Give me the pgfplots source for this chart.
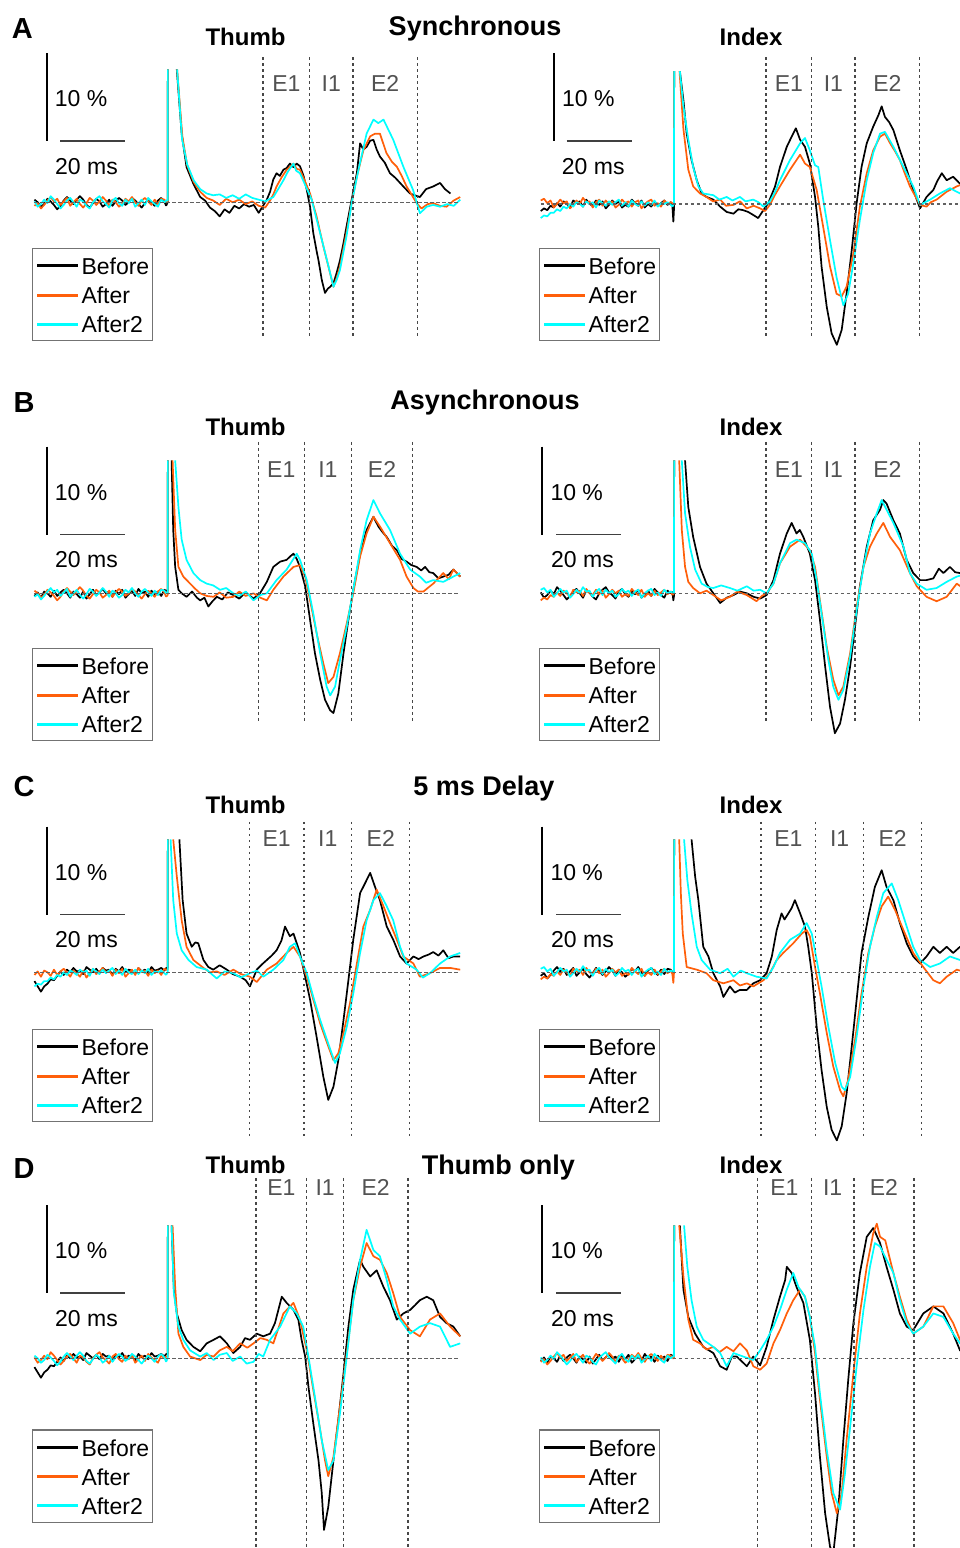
\documentclass[border=0pt]{standalone}
\usepackage{pgfplots}
\pgfplotsset{compat=1.18}
\usepackage{pgfplotstable}
\usepackage{fontspec}
\setmainfont{Liberation Sans}

\definecolor{cBefore}{RGB}{0,0,0}
\definecolor{cAfter}{RGB}{255,95,10}
\definecolor{cAfter2}{RGB}{0,255,255}

% pre-stimulus baseline noise (ms, % of max)
\pgfplotstableread{
x s1 s2 s3 s4 s5 s6 s7 s8
-41 0.3 -0.4 0.1 -0.8 0.4 -0.3 -1.0 -1.6
-40 0.0 -0.1 -0.5 -0.5 0.6 0.1 -1.6 -1.3
-39 -0.5 -0.7 -0.2 -0.7 0.1 -0.5 -2.2 -1.4
-38 -0.2 -0.3 0.3 -0.2 0.4 0.2 -1.6 -1.0
-37 0.4 0.2 -0.1 -0.4 -0.4 0.0 -1.3 -1.0
-36 0.1 0.6 0.7 0.1 0.0 -0.4 -0.8 -0.6
-35 -0.3 0.1 0.3 -0.3 0.5 0.3 -0.9 -0.8
-34 -0.8 0.4 -0.2 0.3 0.1 -0.3 -0.4 -0.3
-33 -0.4 -0.3 -0.7 0.0 0.3 0.1 0.1 -0.5
-32 0.2 0.1 -0.3 -0.4 -0.5 0.4 -0.3 0.0
-31 0.6 0.5 0.2 0.4 -0.1 0.0 0.3 -0.3
-30 0.2 -0.4 0.5 0.1 0.4 -0.5 0.0 0.2
-29 -0.2 0.0 0.0 0.3 0.0 0.2 0.5 0.0
-28 0.3 0.4 -0.5 -0.3 0.7 -0.1 0.1 -0.3
-27 0.7 -0.2 0.3 0.5 0.2 -0.5 0.2 0.3
-26 0.3 -0.6 0.1 0.0 0.3 0.2 -0.2 0.0
-25 -0.3 -0.1 -0.4 -0.2 -0.4 -0.6 0.6 0.2
-24 -0.6 0.5 -0.7 0.4 0.2 -0.1 0.3 -0.4
-23 -0.1 0.2 0.0 -0.1 0.5 0.4 0.0 0.4
-22 0.4 -0.3 0.4 0.3 -0.2 -0.2 0.4 0.1
-21 0.1 0.1 0.7 -0.5 0.4 0.1 -0.1 -0.2
-20 -0.5 0.6 0.1 -0.1 0.0 0.5 0.5 0.3
-19 -0.2 0.2 -0.2 0.4 0.3 0.0 0.2 -0.1
-18 0.3 -0.4 -0.6 0.0 -0.4 0.2 0.3 0.2
-17 -0.4 0.3 0.2 0.3 -0.1 -0.4 -0.3 0.5
-16 0.1 0.0 0.5 -0.4 0.5 0.3 0.4 -0.2
-15 0.5 -0.5 -0.1 -0.1 0.1 -0.1 0.1 0.2
-14 0.2 -0.2 -0.4 -0.3 0.3 0.4 0.6 -0.3
-13 -0.3 0.4 0.3 0.5 -0.3 -0.5 0.0 0.4
-12 0.0 0.1 -0.1 0.1 0.2 -0.1 0.3 0.0
-11 0.5 0.6 0.4 -0.2 0.4 0.3 0.2 -0.2
-10 0.2 0.0 -0.5 0.4 -0.5 -0.3 -0.2 0.3
-9 -0.2 -0.4 -0.1 -0.4 0.0 0.5 0.5 -0.2
-8 -0.6 0.2 0.3 0.0 0.3 0.0 0.1 0.2
-7 -0.1 0.5 -0.3 -0.3 0.5 0.2 0.3 -0.1
-6 0.3 0.1 0.5 0.3 -0.2 -0.4 -0.1 0.4
-5 0.0 -0.3 0.1 -0.2 0.1 0.3 0.6 -0.3
-4 -0.4 0.3 -0.2 0.1 -0.3 -0.1 0.2 0.1
-3 0.2 -0.2 -0.5 0.4 0.4 0.2 0.3 0.0
-2 0.5 0.4 0.3 -0.1 0.0 -0.3 0.5 0.2
-1 0.1 0.3 0.0 0.2 0.2 0.4 0.2 -0.1
-0.5 -0.4 0.0 0.2 -0.2 0.1 0.3 0.5 -0.3
}\noisetab

\pgfplotsset{
  emg/.style={x=3.25pt, y=8.8pt, hide axis, xmin=-42, xmax=92, ymin=-23, ymax=21,
    clip=false, anchor=origin, no markers, unbounded coords=jump,
    every axis plot/.append style={line width=1.7pt, line join=round}},
}

% one trace: pre-stimulus part from the noise table, rest from coordinates
% (the nan point breaks the line where the stimulus artefact leaves the frame)
\newcommand{\trace}[3]{%
  \addplot[#1] table[x=x,y=#2]{\noisetab};
  \addplot[#1] coordinates {#3};
}
% E1 / I1 / E2 windows: 4 borders, top, bottom, label baseline
\newcommand{\guides}[7]{%
  \draw[zeroline] (axis cs:-41,0) -- (axis cs:90,0);
  \draw[guide] (axis cs:#1,#5) -- (axis cs:#1,#6);
  \draw[guide] (axis cs:#2,#5) -- (axis cs:#2,#6);
  \draw[guide] (axis cs:#3,#5) -- (axis cs:#3,#6);
  \draw[guide] (axis cs:#4,#5) -- (axis cs:#4,#6);
  \path (axis cs:#1,#7) -- (axis cs:#2,#7) node[midway,elab] {E1};
  \path (axis cs:#2,#7) -- (axis cs:#3,#7) node[midway,elab] {I1};
  \path (axis cs:#3,#7) -- (axis cs:#4,#7) node[midway,elab] {E2};
}
% legend box at left x, top y (pixel units, y down)
\newcommand{\lgd}[2]{%
  \draw[line width=1.2pt, draw=black!55] (#1,#2) rectangle ({#1+120.4},{#2+92.4});
  \draw[line width=3pt, cBefore] ({#1+4.7},{#2+17.4}) -- ({#1+45.7},{#2+17.4});
  \draw[line width=3pt, cAfter] ({#1+4.7},{#2+46.7}) -- ({#1+45.7},{#2+46.7});
  \draw[line width=3pt, cAfter2] ({#1+4.7},{#2+75.7}) -- ({#1+45.7},{#2+75.7});
  \node[lgt] at ({#1+49},{#2+26}) {Before};
  \node[lgt] at ({#1+49},{#2+55}) {After};
  \node[lgt] at ({#1+49},{#2+84}) {After2};
}
% scale bars: vertical bar x, its top y, horizontal bar start x
\newcommand{\sbar}[3]{%
  \draw[line width=2pt] (#1,#2) -- (#1,{#2+88});
  \draw[line width=1.4pt, black!75] (#3,{#2+88}) -- ({#3+65},{#2+88});
  \node[lgt] at ({#1+8},{#2+53.5}) {10 \%};
  \node[lgt] at ({#3-5},{#2+121}) {20 ms};
}

\begin{document}
\begin{tikzpicture}[
  guide/.style={line width=1.3pt, draw=black!72, dash pattern=on 2.6pt off 3.4pt},
  zeroline/.style={line width=1.1pt, draw=black!62, dash pattern=on 3.5pt off 2.5pt},
  elab/.style={anchor=base, inner sep=0pt, text=black!68, font=\fontsize{23}{26}\selectfont},
  lgt/.style={anchor=base west, inner sep=0pt, font=\fontsize{23}{26}\selectfont},
  ttl/.style={anchor=base, inner sep=0pt, font=\bfseries\fontsize{27}{30}\selectfont},
  sub/.style={anchor=base, inner sep=0pt, font=\bfseries\fontsize{24}{27}\selectfont},
  pan/.style={anchor=base west, inner sep=0pt, font=\bfseries\fontsize{29}{32}\selectfont},
]

% ---------------- A: Synchronous ----------------
\begin{axis}[emg, at={(167.7pt,-202.3pt)}]
\trace{cBefore}{s1}{(-0.5,-0.4)(0,0)(0.05,15.1)(0.5,nan)(2.8,15.1)(4.3,7.8)(5.8,4.0)(7.9,2.1)(10,0.6)(11.5,0.2)(13,-0.6)(14.5,-1.0)(16,-1.6)(17.5,-0.8)(19,-1.2)(20.5,-0.4)(22,-0.7)(23.5,-0.2)(25,-0.5)(26.5,-0.3)(28,-1.2)(29.5,-0.3)(30.5,0.3)(31.5,1.2)(32.5,2.6)(33.5,3.3)(34.5,3.0)(35.6,3.7)(36.6,3.9)(37.6,4.4)(38.7,4.0)(39.7,4.4)(40.7,4.1)(41.8,3.0)(42.8,1.4)(43.8,-0.5)(44.8,-3.5)(45.8,-5.5)(46.4,-6.6)(47.4,-8.8)(48.4,-10.3)(49.3,-9.8)(50,-9.6)(51,-9.2)(52,-8.0)(53,-6.6)(54,-4.8)(55,-2.8)(56.6,0.3)(58.2,3.3)(59.2,6.7)(60.2,6.0)(61.2,6.3)(62.3,7.0)(63.3,7.1)(64.3,6.0)(65.3,5.2)(66.8,4.5)(68.4,3.3)(70,2.8)(71.5,2.2)(73,1.6)(74.6,1.0)(76,0.8)(77.6,0.6)(79.5,1.5)(81.7,1.8)(83.8,2.2)(85.3,1.5)(87,1.0)}
\trace{cAfter}{s2}{(-0.5,0.0)(0,0)(0.05,15.1)(0.5,nan)(2.9,15.1)(4.5,7.5)(6,4.2)(8,2.3)(10,1.2)(12,0.5)(14,0.2)(16,-0.3)(18,0.4)(20,0)(22,0.3)(24,-0.2)(26,0.1)(28,-0.4)(30,-0.6)(31.5,0.2)(32.5,0.9)(33.5,1.8)(35,2.8)(36.6,3.7)(38.7,4.4)(39.7,3.8)(40.7,3.7)(42,2.6)(43.8,1.0)(45.8,-1.6)(47.9,-5.0)(50,-8.1)(51,-9.6)(52,-8.6)(53,-7.3)(55,-3.5)(56.6,-0.1)(58.2,2.9)(60.2,5.9)(62.3,7.5)(63.8,7.8)(65.3,7.8)(67.3,5.6)(69,4.6)(70.5,4.05)(72,3.0)(73.5,1.8)(75,0.9)(76.6,-0.1)(78.1,-0.7)(80,-0.2)(81.7,-0.1)(83.8,-0.4)(85.8,-0.5)(88,0.2)(90,0.6)}
\trace{cAfter2}{s3}{(-0.5,0.2)(0,0.2)(0.05,15.1)(0.5,nan)(2.9,15.1)(4.4,7.2)(6,4.3)(8,2.5)(10,1.5)(12,1.0)(14,0.8)(16,0.9)(18,0.5)(20,0.8)(22,0.4)(24,0.9)(26,0.5)(28,0.3)(30,0.1)(31.5,0.4)(32.5,0.6)(34,1.5)(35.6,2.5)(37,3.5)(38.7,4.4)(39.5,3.6)(40.7,3.3)(42.5,1.8)(44.3,0.3)(46.9,-3.5)(49.5,-7.3)(51,-9.6)(52,-8.8)(53,-7.7)(55,-3.9)(56.6,-0.1)(58.7,3.7)(61.2,7.8)(63.3,9.4)(64.8,9.0)(66.4,9.4)(69.4,7.1)(72.5,4.05)(75.5,1.4)(77.6,-1.25)(79.7,-0.5)(81.7,-0.3)(83.8,-0.5)(86,-0.2)(88,-0.4)(90,0.3)}
\guides{29.3}{43.7}{57.0}{76.8}{16.5}{-15.3}{12.6}
\end{axis}

\begin{axis}[emg, at={(674pt,-204pt)}]
\trace{cBefore}{s4}{(-0.5,-0.2)(-0.2,-2.0)(0,-0.5)(0.05,15.1)(0.5,nan)(1.8,15.1)(2.9,11.8)(3.9,8.0)(5.4,5.0)(7,2.7)(8.5,1.2)(10,0.8)(12.1,0.5)(14.2,-0.3)(16.2,-0.9)(18.3,-1.1)(19.8,-0.6)(21.3,-0.7)(22.8,-0.9)(24.4,-1.25)(25.9,-1.6)(27.5,-0.7)(29,0.1)(31.1,2.0)(32.6,4.2)(34.7,6.5)(36.2,7.65)(37.5,8.6)(38.8,7.3)(40.3,6.5)(41.8,4.6)(43.4,0.8)(44.4,-2.6)(45.4,-7.1)(47,-11.7)(48.5,-14.7)(50.1,-16.0)(51.6,-14.3)(53.1,-10.2)(54.7,-5.2)(56.2,0.1)(57.7,4.2)(59.3,6.9)(61.3,8.8)(62.9,10.1)(63.9,11.1)(64.9,9.9)(66.2,9.3)(67.5,8.4)(69.5,6.1)(71.6,3.9)(73.6,1.6)(75.7,-0.5)(77.7,0.8)(79.8,1.6)(81,2.6)(82.4,3.5)(83.9,2.7)(85.9,3.1)(88,2.3)(90,2.6)}
\trace{cAfter}{s5}{(-0.5,0.1)(0,0.1)(0.05,15.1)(0.5,nan)(1.7,15.1)(2.9,8.5)(4.4,3.9)(5.9,2.0)(8,1.2)(10,0.8)(12,0.3)(14.2,0.5)(16,-0.2)(18.3,-0.1)(20.3,0.3)(22.4,-0.5)(24.5,-0.2)(26.5,-0.5)(28,-0.8)(29.5,-0.1)(31,1.0)(32.6,2.0)(35.7,3.9)(37.7,5.0)(38.8,5.6)(40.3,4.6)(41.8,4.2)(43.9,1.6)(45.9,-2.6)(48,-7.1)(50,-10.2)(51.6,-10.5)(53.1,-9.4)(55.2,-5.6)(57.2,-0.3)(59.3,3.5)(61.3,6.1)(63.4,7.65)(64.9,8.0)(66.5,6.9)(68,6.0)(69.5,5.0)(71,3.5)(72.6,2.0)(75.7,-0.1)(77.7,-0.3)(79,0.2)(80.8,0.5)(83.9,1.4)(87,2.0)(89,2.3)(90,2.0)}
\trace{cAfter2}{s8}{(-0.5,-0.3)(0,0)(0.05,15.1)(0.5,nan)(1.8,15.1)(2.9,11.1)(4.4,7.3)(5.9,4.2)(7.5,2.0)(9,1.2)(12.1,1.0)(14,0.5)(16.2,0.8)(18,0.4)(20.3,0.8)(22,0.3)(24.4,0.5)(26,0.2)(27.5,-0.3)(29.5,0.3)(31,1.3)(32.6,2.7)(35.7,5.0)(38.8,6.9)(40.3,7.5)(41.8,6.1)(43.4,4.4)(44.4,4.2)(45.9,0.5)(48,-4.1)(50,-8.3)(52.1,-11.5)(53.6,-10.2)(55.2,-6.7)(57.2,-1.8)(59.3,2.7)(61.3,5.8)(63.4,8.0)(64.9,8.2)(67.5,6.5)(70.6,4.2)(73.6,2.0)(75.7,-0.1)(78.8,0.5)(81.8,1.2)(84.9,1.8)(88,1.2)(90,1.5)}
\guides{28.3}{42.4}{55.7}{75.6}{16.7}{-15.1}{12.8}
\end{axis}

% ---------------- B: Asynchronous ----------------
\begin{axis}[emg, at={(167.7pt,-593.3pt)}]
\trace{cBefore}{s6}{(-0.5,0.3)(0,0.3)(0.05,15.1)(0.5,nan)(1.2,15.1)(1.7,7.2)(2.3,3.0)(3.3,0.4)(4.3,0)(5.8,-0.4)(7.5,0.2)(9,-0.5)(10,-0.8)(11.3,-0.5)(12.5,-1.5)(13.8,-0.9)(15.1,-0.4)(16.8,-0.7)(18.5,0.1)(20.2,-0.2)(22,-0.6)(24,0.1)(26.4,-0.6)(28.4,0)(30.5,1.3)(32.5,3.0)(34.6,3.6)(36.6,3.8)(37.7,4.2)(38.7,4.5)(39.7,3.9)(40.7,3.0)(42.3,0.8)(43.8,-3.0)(45.3,-6.8)(46.9,-9.8)(48.4,-12.1)(50,-13.3)(51,-13.6)(52.5,-11.4)(54.1,-6.8)(55.6,-3.0)(57.1,0.4)(59.2,4.5)(61.2,7.2)(63.3,8.7)(64.8,7.6)(66,7.0)(67.4,6.4)(69,5.4)(70.5,4.9)(72,3.9)(73.5,3.6)(75,3.2)(76.6,3.0)(78,2.6)(79.2,3.0)(80.5,2.4)(81.7,2.3)(83.3,1.7)(84.8,1.9)(86.4,2.1)(87.9,2.7)(90,1.9)}
\trace{cAfter}{s1}{(-0.5,-0.4)(0,-0.2)(0.05,15.1)(0.5,nan)(1.5,15.1)(2.3,7.2)(3.3,3.0)(4.8,1.9)(6.9,1.1)(8.5,0.5)(10,0)(12,-0.3)(14.1,-0.4)(16,0.1)(18,-0.5)(20.2,-0.4)(22,0.2)(24,-0.3)(26.4,0)(28.5,-0.5)(30.5,-0.8)(32.5,0.4)(35.6,1.9)(38.7,3.0)(40.7,3.2)(42.3,1.9)(43.8,-0.8)(45.8,-4.5)(47.9,-8.0)(49.4,-10.2)(51,-9.5)(53,-6.8)(55.1,-3.4)(57.1,0)(59.2,4.2)(61.2,6.8)(63.3,8.7)(65.3,7.6)(68.4,5.7)(71.5,3.8)(73.5,1.9)(75.6,0.6)(77,0.2)(78.7,0.2)(80,0.6)(81.7,1.1)(84.8,2.3)(86.5,1.6)(87.9,2.7)(90,1.9)}
\trace{cAfter2}{s2}{(-0.5,0)(0,0)(0.05,15.1)(0.5,nan)(2.3,15.1)(3.3,9.8)(4.3,6.1)(5.8,3.8)(7.9,2.3)(10,1.5)(12,1.1)(14,0.9)(16.1,0.4)(18,0.6)(20.2,0)(22,-0.3)(24,0.2)(26.4,-0.8)(28.5,-0.2)(30.5,0)(33.5,1.5)(36.6,2.7)(39.7,4.5)(40.7,3.8)(42.8,1.5)(44.8,-2.3)(46.9,-6.8)(48.9,-10.6)(50,-11.6)(51.5,-10.6)(53,-7.6)(55.1,-3.8)(57.1,0.4)(59.2,4.9)(61.2,8.3)(63.3,10.6)(65.3,9.1)(68.4,7.2)(71.5,4.5)(74.6,2.7)(77.6,1.9)(79.5,1.2)(81.7,1.5)(84.8,1.3)(87.9,1.9)(90,2.3)}
\guides{27.9}{42.0}{56.6}{75.3}{17.2}{-14.7}{13.2}
\end{axis}

\begin{axis}[emg, at={(674pt,-593.3pt)}]
\trace{cBefore}{s3}{(-0.5,0.2)(-0.2,-0.8)(0,-0.3)(0.05,15.1)(0.5,nan)(3.4,15.1)(4.4,9.8)(5.9,6.4)(8,3.0)(10,1.1)(12.1,0)(14.2,-1.1)(16.2,-0.5)(18.3,-0.2)(20.3,0.2)(22.4,0)(24.5,-0.4)(26.5,-0.6)(28.5,-0.2)(30.6,1.5)(32.6,4.5)(34.7,6.8)(36.2,8.0)(37.7,6.8)(38.7,7.2)(39.8,6.4)(41.8,4.5)(43.4,1.5)(44.9,-3.0)(46.5,-8.3)(48,-12.9)(49.5,-15.9)(51.1,-14.8)(52.6,-12.1)(54.2,-8.3)(55.7,-3.8)(57.2,0.8)(59.3,5.3)(61.3,8.3)(63.4,9.5)(64.4,10.6)(65.4,10.2)(67.5,8.3)(69.5,6.8)(71.6,3.8)(73.6,2.3)(75.7,1.5)(77.7,1.5)(79.8,1.7)(81.5,2.8)(82.9,2.3)(84.9,3.0)(86.5,2.4)(88,2.3)(90,2.6)}
\trace{cAfter}{s4}{(-0.5,-0.2)(0,0)(0.05,15.1)(0.5,nan)(1.6,15.1)(2.4,7.2)(3.4,3.0)(4.4,1.3)(5.9,0.6)(8,0)(10,0.3)(12.1,-0.2)(14.5,-0.8)(17.2,-0.4)(19.5,0.2)(22.4,-0.2)(25.4,-0.9)(27,-0.3)(28.5,0)(30.6,1.1)(32.6,3.4)(35.7,5.3)(38.8,6.1)(41.8,4.9)(43.4,3.0)(44.9,-0.8)(47,-6.1)(49,-9.8)(50.6,-11.6)(52.1,-10.6)(54.2,-6.8)(56.2,-1.5)(58.3,3.0)(60.3,5.3)(62.4,6.8)(64.4,8.0)(66.5,6.4)(69.5,4.9)(72.6,2.3)(74.7,0.8)(77.7,-0.4)(80.8,-0.9)(83.9,-0.4)(87,1.1)(90,0.3)}
\trace{cAfter2}{s5}{(-0.5,0.1)(0,0.1)(0.05,15.1)(0.5,nan)(2.4,15.1)(3.4,9.1)(4.9,5.3)(6.5,2.7)(8.5,1.1)(10.5,0.7)(12.1,0.6)(14.5,0.9)(17.2,0.6)(19.5,0.3)(22.4,0.8)(24.5,0.3)(26.5,0.4)(28.5,0)(30.6,1.1)(32.6,3.4)(35.7,5.7)(37.7,6.1)(40.3,5.7)(42.4,4.5)(43.9,1.5)(45.4,-2.3)(47.5,-7.6)(49,-10.6)(50.6,-12.1)(52.1,-11.0)(54.2,-7.2)(56.2,-1.9)(58.3,3.0)(60.3,6.8)(62.4,9.1)(63.9,10.6)(65.4,9.5)(67.5,8.0)(70.6,5.3)(72.6,2.3)(74.7,1.1)(77.7,0.4)(80.8,0.6)(83.9,1.3)(87,1.9)(90,2.2)}
\guides{28.3}{42.4}{55.7}{75.6}{17.2}{-14.7}{13.2}
\end{axis}

% ---------------- C: 5 ms Delay ----------------
\begin{axis}[emg, at={(167.7pt,-972.3pt)}]
\trace{cBefore}{s7}{(-0.5,0.5)(0,0.5)(0.05,15.1)(0.5,nan)(3.6,15.1)(4.6,8.2)(5.8,4.4)(7.4,2.9)(8.5,3.4)(9.4,3.3)(11,1.4)(12.5,0.6)(14,0.3)(16,0.8)(18.2,0.3)(20,-0.2)(22.3,-0.5)(24,-0.9)(25.3,-1.6)(27.4,0.3)(29,0.9)(30.5,1.4)(32,1.9)(33.5,2.5)(35,3.6)(36.1,5.2)(37.6,4.1)(38.7,4.4)(40.7,2.2)(42.3,-0.5)(43.8,-3.1)(45.8,-7.3)(47.9,-11.9)(49.4,-14.5)(51,-13.0)(52.5,-10.0)(54.1,-5.4)(55.6,-0.9)(57.1,3.7)(59.2,9.0)(60.7,10.1)(62.3,11.3)(63.8,9.7)(65.3,8.2)(67.4,5.2)(69.4,3.7)(71.5,1.8)(73.5,1.0)(75.6,1.8)(77.2,1.5)(78.7,1.8)(80.2,2.0)(81.7,2.3)(83.3,1.9)(84.8,2.5)(86.4,1.6)(87.9,1.8)(90,1.8)}
\trace{cAfter}{s6}{(-0.5,0.3)(0,0.3)(0.05,15.1)(0.5,nan)(1.7,15.1)(2.8,10.9)(4.3,5.9)(5.8,2.9)(7.9,1.4)(11,0.5)(13,0.0)(15.1,0.1)(17.5,-0.3)(20.2,0.3)(22.5,-0.2)(25.3,-0.5)(27.4,-1.1)(30.5,0.3)(33.5,1.0)(36.6,2.2)(38.7,2.9)(40.7,1.8)(42.8,-0.5)(44.8,-3.1)(46.9,-5.8)(49.4,-8.4)(51,-10.0)(52.5,-9.2)(54.1,-6.9)(56.1,-3.5)(58.2,1.0)(60.2,5.2)(62.3,7.1)(64.3,9.4)(66.4,7.5)(68.4,5.6)(70.5,3.7)(72.5,1.8)(75.6,1.0)(77.6,-0.5)(80.7,-0.1)(83.8,0.5)(86.9,0.5)(90,0.3)}
\trace{cAfter2}{s8}{(-0.5,-0.3)(0,0)(0.05,15.1)(0.5,nan)(0.9,15.1)(1.7,8.2)(2.8,4.4)(4.3,2.5)(6.4,1.4)(8.9,0.6)(12,0.3)(13.5,-0.2)(15.1,-0.7)(17.5,0.1)(20.2,-0.1)(22.5,-0.6)(25.3,-0.1)(27.5,0.2)(29.4,-0.5)(32.5,0.3)(35.6,1.4)(37.6,2.9)(39.2,3.3)(40.7,1.8)(42.8,-0.1)(44.8,-2.8)(46.9,-5.4)(49.4,-8.1)(51.5,-10.3)(53,-9.2)(55.1,-6.2)(57.1,-2.4)(59.2,2.2)(61.2,5.9)(63.3,8.2)(65.3,9.0)(67.4,7.5)(69.4,5.9)(71.5,2.9)(73.5,1.0)(76.6,0.3)(78.5,-0.6)(80.7,-0.1)(83.8,1.0)(86.9,1.8)(90,2.2)}
\guides{25.1}{41.9}{56.6}{74.5}{17.1}{-18.7}{14.35}
\end{axis}

\begin{axis}[emg, at={(674pt,-972.3pt)}]
\trace{cBefore}{s2}{(-0.5,0)(0,0)(0.05,15.1)(0.5,nan)(5.4,15.1)(6.5,10.9)(7.5,8.2)(9,2.9)(10.6,1.8)(12.1,-0.1)(14.2,-1.6)(15.2,-2.8)(17.2,-1.6)(18.7,-2.3)(20.3,-2.0)(22.4,-2.0)(24.4,-1.25)(26.5,-0.9)(28.5,-0.1)(30.1,1.8)(31.6,4.8)(33.1,6.7)(34,6.0)(35.2,6.7)(36.2,7.3)(37.2,8.2)(38.8,6.7)(40.3,5.2)(41.3,2.9)(42.4,-0.1)(43.9,-6.2)(45.4,-11.1)(47,-15.3)(48.5,-17.9)(50.1,-19.1)(51.6,-17.5)(53.1,-13.8)(54.7,-8.4)(56.2,-3.1)(57.7,2.2)(59.8,6.3)(61.8,9.7)(63.9,11.6)(65.4,9.7)(67.5,8.2)(69.5,5.6)(71.6,3.3)(73.6,1.8)(75.7,1.0)(77.7,1.8)(79.8,2.9)(81.8,2.2)(83.9,2.9)(85.9,2.2)(88,2.9)(90,2.5)}
\trace{cAfter}{s4}{(-0.5,-0.2)(-0.2,-1.2)(0,0)(0.05,15.1)(0.5,nan)(1.6,15.1)(2.1,9.0)(2.7,4.4)(3.9,0.6)(7,0.3)(10,-0.1)(12.1,-0.9)(15.2,-1.25)(18.3,-0.9)(20.3,-1.5)(22.4,-1.25)(24.4,-1.6)(27.5,-0.9)(29.5,-0.1)(31.6,1.4)(33.6,2.2)(36.7,3.3)(39.3,4.4)(40.8,4.8)(41.8,4.1)(43.4,0.6)(44.9,-2.4)(47,-6.9)(49,-10.7)(51.1,-13.4)(52.1,-14.1)(53.6,-12.2)(55.7,-7.7)(57.7,-2.4)(59.8,2.2)(61.8,5.2)(63.9,7.5)(65.9,8.6)(68,7.1)(70.6,4.8)(73.6,2.2)(76.7,0.6)(79.8,-0.9)(81.8,-1.25)(83.9,-0.5)(87,0.3)(90,0.0)}
\trace{cAfter2}{s5}{(-0.5,0.1)(0,0.1)(0.05,15.1)(0.5,nan)(3.1,15.1)(4.1,10.5)(5.4,6.7)(7,2.9)(8.5,1.4)(11.1,0.3)(14.2,-0.1)(16.5,0.4)(18.3,-0.5)(20.5,0.2)(22.4,-0.1)(25.4,-0.5)(28.5,-0.7)(30.6,0.6)(32.6,2.2)(35.7,3.7)(38.8,4.4)(40.8,5.6)(42.4,4.4)(43.9,1.4)(45.4,-1.6)(47.5,-6.2)(49.6,-10.3)(51.6,-13.0)(52.6,-13.4)(54.2,-11.9)(56.2,-7.3)(58.3,-1.6)(60.3,2.9)(62.4,6.3)(64.4,9.0)(67,10.1)(69,8.2)(71.6,5.2)(73.6,2.9)(75.7,1.4)(78.8,0.6)(81.8,1.0)(84.9,1.8)(88,1.4)(90,1.6)}
\guides{26.8}{43.6}{58.3}{76.2}{17.1}{-18.7}{14.35}
\end{axis}

% ---------------- D: Thumb only ----------------
\begin{axis}[emg, at={(167.7pt,-1358.3pt)}]
\trace{cBefore}{s7}{(-0.5,0.5)(0,0.5)(0.05,15.1)(0.5,nan)(1.2,15.1)(1.9,7.8)(2.8,5.1)(4.3,3.2)(5.8,2.1)(7.9,1.3)(10,0.8)(12,1.7)(14.1,2.1)(16.1,2.5)(18.2,1.7)(20.2,0.6)(22.3,1.3)(23.8,2.3)(25.3,2.1)(27.4,2.8)(29.4,2.5)(31.5,2.8)(33,4.0)(35.1,7.0)(36.6,6.3)(38.7,5.5)(40.2,4.4)(41.2,2.1)(42.3,0.2)(43.3,-3.2)(44.8,-7.4)(46.4,-11.6)(47.4,-15.3)(48.1,-19.5)(49.4,-16.9)(51,-11.6)(52.5,-7.0)(54.1,-1.7)(55.6,3.6)(57.1,7.8)(59.2,11.2)(60.2,10.4)(62.3,9.3)(64.3,10.0)(66.4,8.1)(68.4,6.6)(70.5,4.4)(72.5,5.1)(74.6,5.5)(76,6.0)(77.6,6.6)(79.7,7.0)(81.7,6.6)(83.8,4.7)(85.8,4.0)(87.9,3.6)(90,2.5)}
\trace{cAfter}{s3}{(-0.5,0.2)(0,0.2)(0.05,15.1)(0.5,nan)(1.5,15.1)(2.3,8.1)(3.3,2.8)(4.8,1.3)(6.9,0.2)(10,-0.2)(12,0.4)(14.1,0.2)(16,0.9)(18.2,1.3)(20,0.8)(22.3,1.7)(24.5,1.2)(26.4,1.7)(28.5,2.3)(30.5,2.1)(32.5,1.7)(35.6,5.1)(38.7,6.3)(40.7,4.4)(42.8,0.9)(44.8,-3.6)(46.9,-8.1)(48.4,-11.6)(49.4,-13.4)(51,-11.2)(53,-5.5)(55.1,0.6)(57.1,6.6)(59.2,10.4)(61.2,13.1)(63.3,11.6)(65.3,11.2)(67.4,9.7)(69.4,7.4)(71.5,4.7)(74.6,3.2)(77.6,2.5)(80.7,4.4)(83.8,5.1)(86.9,3.6)(90,2.5)}
\trace{cAfter2}{s1}{(-0.5,-0.4)(0,0)(0.05,15.1)(0.5,nan)(1.2,15.1)(1.9,7.4)(3.3,3.6)(4.8,2.1)(6.9,0.9)(10,0.2)(12,0.6)(14.1,-0.2)(16,0.4)(18.2,0.6)(20,-0.3)(22.3,0.2)(24.3,-0.6)(26.4,-0.4)(28,0.5)(29.4,0.2)(31.5,2.1)(34.6,3.6)(37.6,5.9)(39.7,5.1)(41.7,3.6)(43.3,0.2)(45.3,-4.4)(47.4,-9.3)(49.4,-12.7)(51,-11.6)(53,-6.3)(55.1,0.2)(57.1,6.6)(59.2,11.2)(61.2,14.6)(63.3,12.3)(65.3,11.6)(67.4,8.9)(69.4,5.9)(71.5,4.4)(74.6,2.8)(77.6,3.6)(80.7,4.0)(83.8,3.6)(86.9,1.3)(90,1.7)}
\guides{27.2}{42.8}{54.1}{73.9}{20.5}{-21.5}{18.5}
\end{axis}

\begin{axis}[emg, at={(674pt,-1358.3pt)}]
\trace{cBefore}{s6}{(-0.5,0.3)(0,0.3)(0.05,15.1)(0.5,nan)(1.8,15.1)(2.9,7.8)(4.4,4.7)(6.5,2.8)(9,1.3)(12.1,0.6)(14.2,-0.9)(16.2,-1.3)(17.8,0.2)(19.3,0.2)(21,-0.4)(22.4,-0.9)(24.4,0.2)(26.5,-0.8)(28.5,1.3)(30.6,4.4)(32.6,7.0)(34.2,8.9)(34.7,10.4)(36.2,9.7)(37.7,8.1)(39.8,6.3)(41.8,2.1)(43.4,-4.0)(44.9,-11.2)(46.5,-17.6)(48,-21.4)(49,-22.2)(50.6,-16.9)(52.1,-9.3)(53.6,-2.5)(55.2,4.0)(57.2,9.7)(59.3,13.8)(61.3,14.8)(63.4,13.1)(65.4,10.4)(67.5,7.8)(69.5,5.1)(71.6,3.6)(73.6,3.2)(76.7,5.1)(79.8,5.9)(82.9,5.1)(85.9,2.8)(88,0.9)(90,0.5)}
\trace{cAfter}{s2}{(-0.5,0)(0,0)(0.05,15.1)(0.5,nan)(1.6,15.1)(2.9,9.3)(4.4,4.4)(5.9,2.1)(8,1.7)(10,1.0)(12.1,1.3)(14,0.7)(16.2,1.3)(18.3,0.8)(20.3,1.7)(22.4,0.9)(24.4,-0.9)(26.5,-1.3)(28.5,-0.6)(30.6,1.7)(32.6,3.2)(34.7,5.1)(36.7,6.6)(38.8,7.8)(40.3,7.0)(41.8,4.7)(43.4,0.6)(44.9,-4.7)(47,-11.2)(48.5,-15.3)(50.1,-17.6)(51.6,-15.3)(53.1,-9.3)(55.2,-1.7)(57.2,5.1)(59.3,10.4)(61.3,14.2)(62.4,15.3)(63.4,13.8)(65,13.4)(67.5,9.7)(69.5,7.0)(71.6,4.4)(73.6,2.8)(76.7,3.6)(79.8,5.9)(82.9,5.9)(85.9,4.0)(88,2.1)(90,1.5)}
\trace{cAfter2}{s3}{(-0.5,0.2)(0,0.2)(0.05,15.1)(0.5,nan)(3.1,15.1)(4.1,10.4)(5.4,6.6)(7,3.6)(9,2.1)(12.1,1.3)(14.2,0.6)(16.2,-0.9)(18.3,0.6)(21.3,0.2)(24.4,-0.2)(26.5,0.9)(28.5,2.1)(30.6,3.6)(32.6,5.5)(34.7,7.8)(36.7,9.7)(38.3,8.1)(40.3,7.0)(41.8,4.7)(43.4,1.3)(44.9,-4.0)(47,-10.4)(49,-15.3)(51.1,-17.2)(52.6,-13.1)(54.2,-7.8)(56.2,-0.9)(58.3,5.5)(60.3,10.4)(61.8,13.1)(63.4,12.7)(65.4,11.2)(67.5,9.7)(69.5,6.6)(71.6,4.0)(73.6,2.8)(76.7,3.6)(79.8,5.1)(82.9,4.7)(85.9,2.8)(88,1.7)(90,1.2)}
\guides{25.7}{42.2}{55.4}{73.8}{20.5}{-21.5}{18.5}
\end{axis}

% ---------------- titles, scale bars, legends (pixel units) ----------------
\begin{scope}[x=1pt, y=-1pt]
\node[pan] at (11.7,38.3) {A};
\node[ttl] at (475,35) {Synchronous};
\node[sub] at (245.5,45) {Thumb};
\node[sub] at (751,45) {Index};
\sbar{46.7}{53}{60}
\sbar{554}{53}{566.7}
\lgd{32.3}{248.3}
\lgd{539.3}{248.3}

\node[pan] at (13.3,412.3) {B};
\node[ttl] at (485,409) {Asynchronous};
\node[sub] at (245.5,435) {Thumb};
\node[sub] at (751,435) {Index};
\sbar{46.7}{446.7}{60}
\sbar{542.3}{446.7}{556}
\lgd{32.3}{648.3}
\lgd{539.3}{648.3}

\node[pan] at (13.3,796) {C};
\node[ttl] at (484,795) {5 ms Delay};
\node[sub] at (245.5,813.3) {Thumb};
\node[sub] at (751,813.3) {Index};
\sbar{46.7}{826.7}{60}
\sbar{542.3}{826.7}{556}
\lgd{32.3}{1029.3}
\lgd{539.3}{1029.3}

\node[pan] at (13.3,1178.3) {D};
\node[ttl] at (498.3,1174.3) {Thumb only};
\node[sub] at (245.5,1173.3) {Thumb};
\node[sub] at (751,1173.3) {Index};
\sbar{46.7}{1205}{60}
\sbar{542.3}{1205}{556}
\lgd{32.3}{1430}
\lgd{539.3}{1430}
\end{scope}

% the page is exactly the 960 x 1548 frame
\pgfresetboundingbox
\path (0,0) rectangle (960pt,-1548pt);
\end{tikzpicture}
\end{document}
